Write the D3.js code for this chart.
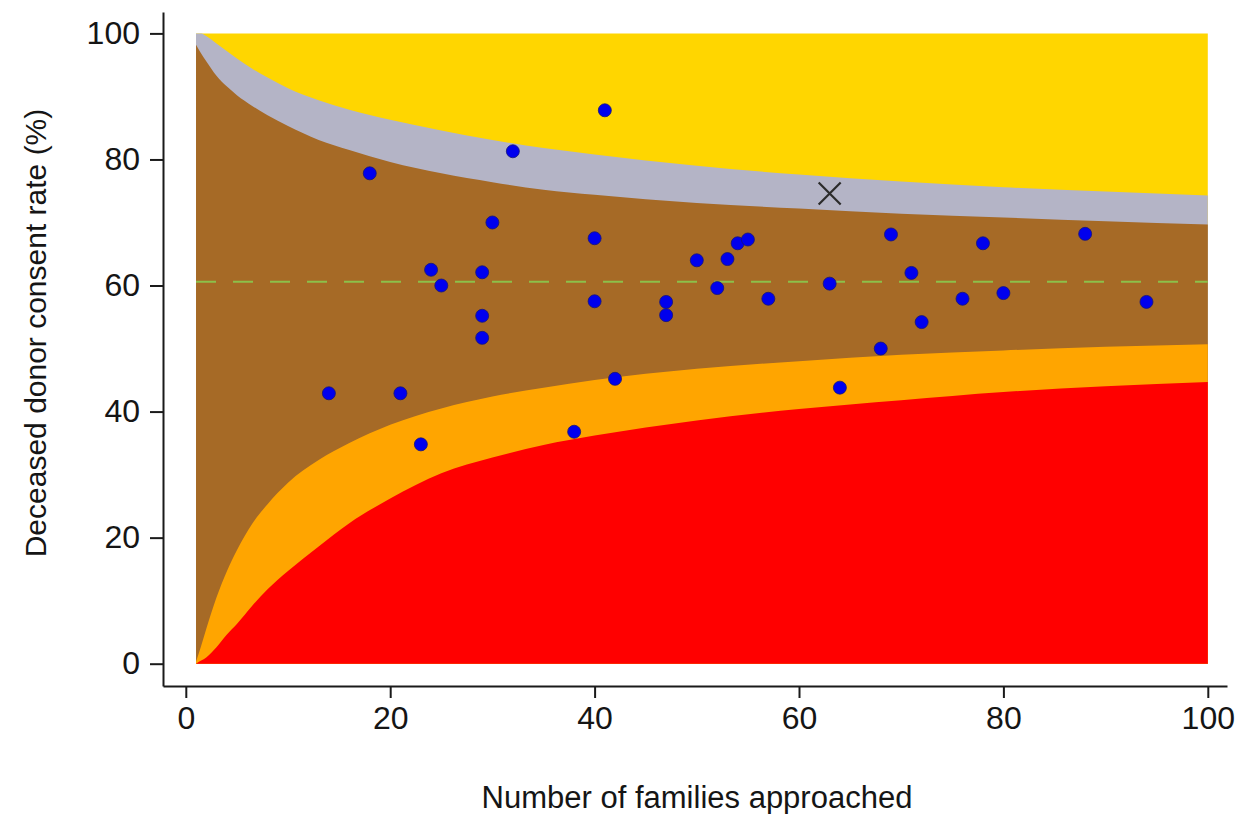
<!DOCTYPE html>
<html>
<head>
<meta charset="utf-8">
<script src="https://cdn.jsdelivr.net/npm/d3@7"></script>
<style>
  html, body { margin: 0; padding: 0; background: #ffffff; }
  svg { display: block; }
  text { font-family: "Liberation Sans", Arial, Helvetica, sans-serif; fill: #151515; }
</style>
</head>
<body>
<svg id="chart" width="1236" height="814"></svg>
<script>
// ---- Data ----
// Number of families approached (x) for each hospital
const approached = [14, 18, 21, 23, 24, 25, 29, 29, 29, 30, 32, 38, 40, 40, 41, 42, 47, 47,
                    50, 52, 53, 54, 55, 57, 63, 64, 68, 69, 71, 72, 76, 78, 80, 88, 94];
// Deceased donor consent rate (%) for each hospital
const consentRate = [42.9, 77.8, 42.9, 34.8, 62.5, 60.0, 62.1, 55.2, 51.7, 70.0, 81.3, 36.8, 67.5, 57.5, 87.8, 45.2, 57.4, 55.3,
                     64.0, 59.6, 64.2, 66.7, 67.3, 57.9, 60.3, 43.8, 50.0, 68.1, 62.0, 54.2, 57.9, 66.7, 58.8, 68.2, 57.4];
// Highlighted unit (cross marker)
const highlightN = [63];
const highlightRate = [74.6];
// Overall (national) consent rate, dashed line
const overallRate = [60.6];

// Funnel control limits, at these numbers approached
const limitN      = [1,    1.5,  2,    3,    4,    5,    6.5,  8,    10,   13,   16,   20,   25,   30,   35,   40,   50,   60,   70,   80,   90,   100];
const upper998    = [100,  100,  99.6, 98.4, 97.2, 96.0, 94.4, 93.0, 91.3, 89.4, 87.9, 86.3, 84.6, 83.1, 81.8, 80.8, 79.0, 77.6, 76.5, 75.6, 74.9, 74.3];
const upper95     = [98.2, 96.8, 95.6, 93.3, 91.6, 90.2, 88.5, 87.0, 85.3, 83.1, 81.5, 79.6, 77.8, 76.4, 75.2, 74.4, 73.1, 72.2, 71.4, 70.8, 70.2, 69.7];
const lower95     = [0.3,  2.8,  5.5,  10.5, 14.6, 18.0, 22.2, 25.3, 28.7, 32.3, 35.0, 37.9, 40.5, 42.4, 43.8, 45.0, 46.8, 48.0, 49.0, 49.7, 50.3, 50.7];
const lower998    = [0,    0.5,  1.0,  2.6,  4.6,  6.3,  9.2,  11.8, 14.7, 18.6, 22.3, 26.2, 30.2, 32.7, 34.7, 36.2, 38.6, 40.4, 41.8, 43.1, 44.0, 44.7];

// Axis ticks
const xTicks = [0, 20, 40, 60, 80, 100];
const yTicks = [0, 20, 40, 60, 80, 100];
const xTitle = "Number of families approached";
const yTitle = "Deceased donor consent rate (%)";

// ---- Layout ----
const svg = d3.select("#chart");
const x = d3.scaleLinear().domain([0, 100]).range([185.8, 1207.8]);
const y = d3.scaleLinear().domain([0, 100]).range([663.7, 33.4]);

const axisXPos = 686;   // y pixel of x axis line
const axisYPos = 163;   // x pixel of y axis line

// ---- Funnel bands (drawn as overlapping layers) ----
const bands = [
  { top: limitN.map(() => 100), color: "#FFD600" },
  { top: upper998, color: "#B4B4C6" },
  { top: upper95,  color: "#A66A26" },
  { top: lower95,  color: "#FFA500" },
  { top: lower998, color: "#FF0000" }
];
const area = d3.area()
  .x((d, i) => x(limitN[i]))
  .y0(() => y(0))
  .y1(d => y(d))
  .curve(d3.curveMonotoneX);

svg.append("g").selectAll("path")
  .data(bands)
  .join("path")
  .attr("d", b => area(b.top))
  .attr("fill", b => b.color)
  .attr("stroke", "none");

// ---- Overall rate dashed line ----
svg.append("line")
  .attr("x1", x(limitN[0]))
  .attr("x2", x(limitN[limitN.length - 1]))
  .attr("y1", y(overallRate[0]))
  .attr("y2", y(overallRate[0]))
  .attr("stroke", "#8CC04A")
  .attr("stroke-width", 2)
  .attr("stroke-dasharray", "20 17");

// ---- Points ----
svg.append("g").selectAll("circle")
  .data(approached.map((n, i) => [n, consentRate[i]]))
  .join("circle")
  .attr("cx", d => x(d[0]))
  .attr("cy", d => y(d[1]))
  .attr("r", 6.5)
  .attr("fill", "#0000EE")
  .attr("stroke", "#14147a")
  .attr("stroke-width", 0.8);

// ---- Highlight cross ----
const cs = 11;
svg.append("g").selectAll("path")
  .data(highlightN.map((n, i) => [n, highlightRate[i]]))
  .join("path")
  .attr("d", d => {
    const cx = x(d[0]), cy = y(d[1]);
    return `M${cx - cs},${cy - cs}L${cx + cs},${cy + cs}M${cx - cs},${cy + cs}L${cx + cs},${cy - cs}`;
  })
  .attr("stroke", "#2b2b2b")
  .attr("stroke-width", 2.2)
  .attr("fill", "none");

// ---- Axes (Stata style, offset from plot region) ----
const xAx = x.copy().domain([x.invert(axisYPos), x.invert(1227)]).range([axisYPos, 1227]);
const yAx = y.copy().domain([y.invert(axisXPos), y.invert(12)]).range([axisXPos, 12]);

const gx = svg.append("g")
  .attr("transform", `translate(0,${axisXPos})`)
  .call(d3.axisBottom(xAx).tickValues(xTicks).tickSizeOuter(0).tickSizeInner(12).tickPadding(8).tickFormat(d3.format("d")));
const gy = svg.append("g")
  .attr("transform", `translate(${axisYPos},0)`)
  .call(d3.axisLeft(yAx).tickValues(yTicks).tickSizeOuter(0).tickSizeInner(13).tickPadding(10).tickFormat(d3.format("d")));

[gx, gy].forEach(g => {
  g.select(".domain").attr("stroke", "#1a1a1a").attr("stroke-width", 2);
  g.selectAll(".tick line").attr("stroke", "#1a1a1a").attr("stroke-width", 2);
  g.selectAll(".tick text")
    .attr("font-size", 32)
    .attr("fill", "#151515")
    .style("font-family", '"Liberation Sans", Arial, Helvetica, sans-serif');
});

// ---- Axis titles ----
svg.append("text")
  .attr("x", 697)
  .attr("y", 808)
  .attr("text-anchor", "middle")
  .attr("font-size", 31)
  .text(xTitle);

svg.append("text")
  .attr("transform", "translate(46,333) rotate(-90)")
  .attr("text-anchor", "middle")
  .attr("font-size", 30)
  .text(yTitle);
</script>
</body>
</html>
